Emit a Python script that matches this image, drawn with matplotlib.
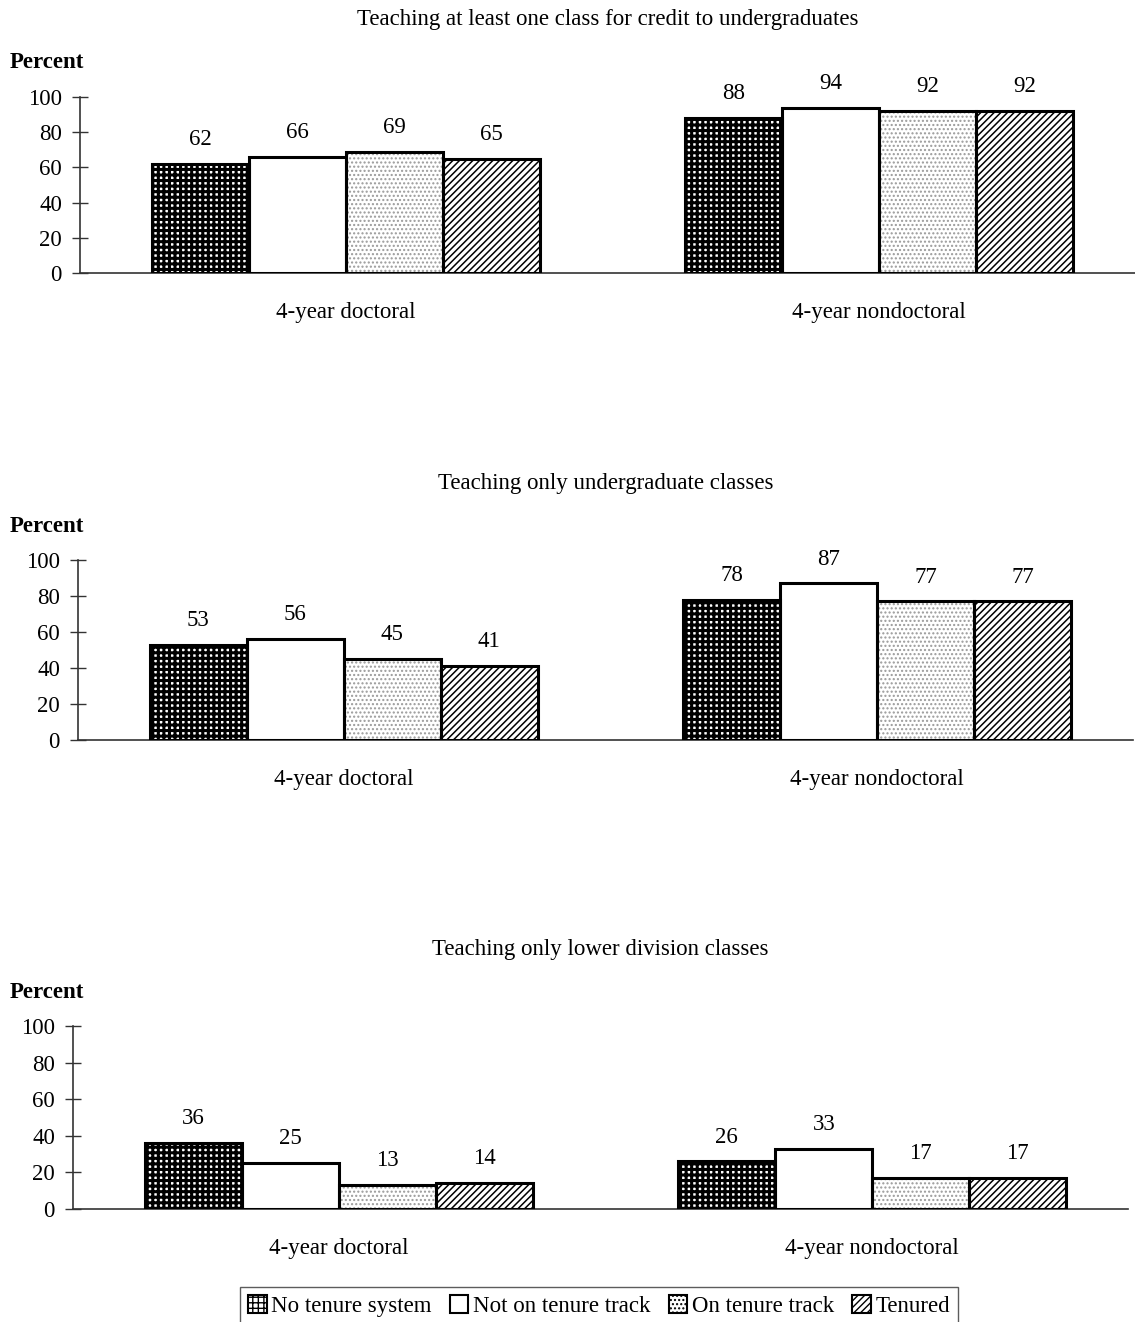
import matplotlib
matplotlib.use("Agg")
import matplotlib.pyplot as plt
from matplotlib.patches import Patch
import numpy as np

plt.rcParams['font.family'] = ['Liberation Serif', 'DejaVu Serif']
plt.rcParams['font.size'] = 16.5

# data
groups = ["4-year doctoral", "4-year nondoctoral"]
series = ["No tenure system", "Not on tenure track", "On tenure track", "Tenured"]
titles = [
    "Teaching at least one class for credit to undergraduates",
    "Teaching only undergraduate classes",
    "Teaching only lower division classes",
]
values_credit = [[62, 66, 69, 65], [88, 94, 92, 92]]
values_undergrad = [[53, 56, 45, 41], [78, 87, 77, 77]]
values_lower = [[36, 25, 13, 14], [26, 33, 17, 17]]
yticks = [0, 20, 40, 60, 80, 100]

W, H = 1135, 1322
fig = plt.figure(figsize=(W / 100, H / 100), dpi=100)

# hatch style per series: (hatch, hatch colour, face, hatch linewidth)
styles = [
    ("+++", "black", "white", 2.2),
    ("", "black", "white", 1.0),
    ("....", "#9a9a9a", "white", 1.0),
    ("/////", "black", "white", 1.1),
]

# pixel boxes: (axis left, y of 0, y of 100)
boxes = [(80, 273, 97), (78, 740, 560), (73, 1209, 1026)]
xlim = (-2.74, 8.14)
bw = 97
centers = np.array([0.0, 5.5])
offsets = np.array([-1.5, -0.5, 0.5, 1.5])


def draw_bar(ax, x, v, i):
    hatch, hcol, face, hlw = styles[i]
    with plt.rc_context({'hatch.linewidth': hlw}):
        b = ax.bar(x, v, width=1.0, color=face, edgecolor=hcol, hatch=hatch,
                   linewidth=0, zorder=2)
        for p in b:
            if hasattr(p, "set_hatch_linewidth"):
                p.set_hatch_linewidth(hlw)
    ax.bar(x, v, width=1.0, fill=False, edgecolor="black", linewidth=2.2,
           zorder=3)


axes = []
for k, (vals, title) in enumerate(zip([values_credit, values_undergrad, values_lower], titles)):
    left, y0, y100 = boxes[k]
    width = (xlim[1] - xlim[0]) * bw
    ax = fig.add_axes([left / W, 1 - y0 / H, width / W, (y0 - y100) / H])
    for g in range(2):
        for i in range(4):
            x = centers[g] + offsets[i]
            v = vals[g][i]
            draw_bar(ax, x, v, i)
            ax.annotate(str(v), (x, v), xytext=(0, 10), textcoords="offset points",
                        ha="center", va="bottom")
    ax.set_xlim(*xlim)
    ax.set_ylim(0, 100)
    ax.set_yticks(yticks)
    ax.set_xticks(centers)
    ax.set_xticklabels(groups)
    ax.tick_params(axis="x", length=0, pad=21)
    ax.tick_params(axis="y", direction="inout", length=11, width=1, pad=7.5,
                   color="#333333")
    for s in ["top", "right"]:
        ax.spines[s].set_visible(False)
    for s in ["left", "bottom"]:
        ax.spines[s].set_linewidth(1.2)
        ax.spines[s].set_color("#333333")
    ax.patch.set_visible(False)
    fig.text((left + width / 2) / W, 1 - (y100 - 77) / H, title,
             ha="center", va="center")
    fig.text(10 / W, 1 - (y100 - 34) / H, "Percent", ha="left", va="center",
             fontweight="bold")
    axes.append(ax)

leg_handles = []
for i in range(4):
    hatch, hcol, face, hlw = styles[i]
    leg_handles.append(Patch(facecolor=face, edgecolor="black", hatch=hatch, linewidth=1.5))
leg = fig.legend(leg_handles, series, loc="upper center", ncol=4,
                 bbox_to_anchor=(599 / W, 1 - 1287 / H),
                 handlelength=0.8, handleheight=0.8, handletextpad=0.2,
                 columnspacing=0.8, frameon=True, fancybox=False,
                 borderpad=0.35, borderaxespad=0)
leg.get_frame().set_edgecolor("#333333")
leg.get_frame().set_linewidth(1.0)

fig.savefig("out.png", dpi=100)
